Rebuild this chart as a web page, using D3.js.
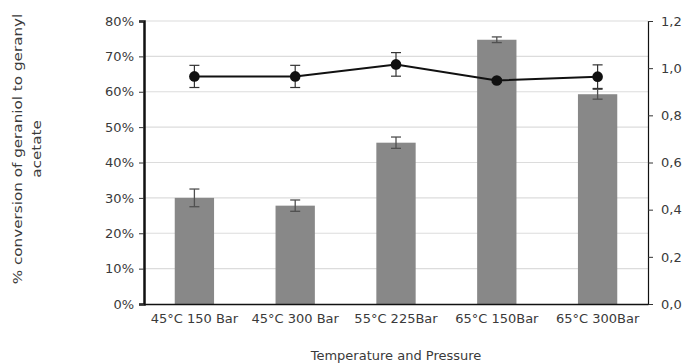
<!DOCTYPE html>
<html>
<head>
<meta charset="utf-8">
<script src="https://cdn.jsdelivr.net/npm/d3@7"></script>
<style>
  body { margin: 0; background: #fff; }
  text { font-family: "DejaVu Sans", sans-serif; }
</style>
</head>
<body>
<div class="chart-container"></div>
<script>
// --- Data ---
const conditions = ["45°C 150 Bar", "45°C 300 Bar", "55°C 225Bar", "65°C 150Bar", "65°C 300Bar"];
const conversion = [30.0, 27.8, 45.6, 74.7, 59.3];      // % conversion (bars, left axis)
const conversionErr = [2.5, 1.6, 1.6, 0.8, 1.4];
const ratio = [0.965, 0.965, 1.016, 0.948, 0.964];      // line, right axis
const ratioErr = [0.047, 0.047, 0.05, 0.008, 0.05];
const leftTicks = [0, 10, 20, 30, 40, 50, 60, 70, 80];
const rightTicks = [0, 0.2, 0.4, 0.6, 0.8, 1.0, 1.2];

const dimensions = {
    width: 691,
    height: 363,
    margin: { top: 21, right: 43, bottom: 59, left: 144 }
};
const width = dimensions.width - dimensions.margin.left - dimensions.margin.right;
const height = dimensions.height - dimensions.margin.top - dimensions.margin.bottom;

const rows = conditions.map((c, i) => ({
    cond: c, conv: conversion[i], convErr: conversionErr[i],
    ratio: ratio[i], ratioErr: ratioErr[i]
}));

const svg = d3.select(".chart-container").append("svg")
    .attr("width", dimensions.width)
    .attr("height", dimensions.height);

const g = svg.append("g")
    .attr("transform", `translate(${dimensions.margin.left},${dimensions.margin.top})`);

const xScale = d3.scaleBand().domain(conditions).range([0, width]).paddingInner(0.61).paddingOuter(0.305);
const yLeft = d3.scaleLinear().domain([0, 80]).range([height, 0]);
const yRight = d3.scaleLinear().domain([0, 1.2]).range([height, 0]);

// grid lines
g.append("g").selectAll("line")
    .data(leftTicks.filter(d => d > 0))
    .join("line")
    .attr("x1", 0).attr("x2", width)
    .attr("y1", d => yLeft(d)).attr("y2", d => yLeft(d))
    .attr("stroke", "#dcdcdc").attr("stroke-width", 1.2);

// bars
g.append("g").selectAll("rect")
    .data(rows)
    .join("rect")
    .attr("x", d => xScale(d.cond))
    .attr("width", xScale.bandwidth())
    .attr("y", d => yLeft(d.conv))
    .attr("height", d => height - yLeft(d.conv))
    .attr("fill", "#888888");

// bar error bars
const barErr = g.append("g").attr("stroke", "#505050").attr("stroke-width", 1.3);
rows.forEach(d => {
    const cx = xScale(d.cond) + xScale.bandwidth() / 2;
    barErr.append("line").attr("x1", cx).attr("x2", cx)
        .attr("y1", yLeft(d.conv - d.convErr)).attr("y2", yLeft(d.conv + d.convErr));
    [d.conv - d.convErr, d.conv + d.convErr].forEach(v => {
        barErr.append("line").attr("x1", cx - 5).attr("x2", cx + 5)
            .attr("y1", yLeft(v)).attr("y2", yLeft(v));
    });
});

// line series
const cxOf = d => xScale(d.cond) + xScale.bandwidth() / 2;
g.append("path")
    .datum(rows)
    .attr("fill", "none")
    .attr("stroke", "#111")
    .attr("stroke-width", 2)
    .attr("d", d3.line().x(cxOf).y(d => yRight(d.ratio)));

const lineErr = g.append("g").attr("stroke", "#333").attr("stroke-width", 1.2);
rows.forEach(d => {
    const cx = cxOf(d);
    lineErr.append("line").attr("x1", cx).attr("x2", cx)
        .attr("y1", yRight(d.ratio - d.ratioErr)).attr("y2", yRight(d.ratio + d.ratioErr));
    [d.ratio - d.ratioErr, d.ratio + d.ratioErr].forEach(v => {
        lineErr.append("line").attr("x1", cx - 5).attr("x2", cx + 5)
            .attr("y1", yRight(v)).attr("y2", yRight(v));
    });
});

g.append("g").selectAll("circle")
    .data(rows)
    .join("circle")
    .attr("cx", cxOf)
    .attr("cy", d => yRight(d.ratio))
    .attr("r", 5.3)
    .attr("fill", "#111");

// --- AXES ---
const leftAxis = g.append("g")
    .call(d3.axisLeft(yLeft).tickValues(leftTicks).tickSize(5).tickPadding(5).tickFormat(d => d + "%"));
leftAxis.select(".domain").attr("stroke", "#111").attr("stroke-width", 2.5);

const rightAxis = g.append("g")
    .attr("transform", `translate(${width},0)`)
    .call(d3.axisRight(yRight).tickValues(rightTicks).tickSize(5).tickPadding(8)
        .tickFormat(d => d3.format(".1f")(d).replace(".", ",")));
rightAxis.select(".domain").attr("stroke", "#111").attr("stroke-width", 1.2);

const bottomAxis = g.append("g")
    .attr("transform", `translate(0,${height})`)
    .call(d3.axisBottom(xScale).tickSize(0).tickPadding(10));
bottomAxis.select(".domain").attr("stroke", "#111").attr("stroke-width", 1.5);

[leftAxis, rightAxis, bottomAxis].forEach(a => {
    a.selectAll("text").attr("font-family", "DejaVu Sans").attr("font-size", 13).attr("fill", "#3a3a3a");
    a.selectAll(".tick line").attr("stroke", "#333");
});

// axis titles
svg.append("text")
    .attr("x", dimensions.margin.left + width / 2)
    .attr("y", 360)
    .attr("text-anchor", "middle")
    .attr("font-size", 13)
    .attr("fill", "#3a3a3a")
    .text("Temperature and Pressure");

// y title is stretched along its length in the reference
const yTitle = svg.append("text")
    .attr("transform", "translate(22,149) rotate(-90) scale(1.17,1)")
    .attr("text-anchor", "middle")
    .attr("font-size", 13)
    .attr("fill", "#3a3a3a");
yTitle.append("tspan").attr("x", 0).attr("y", 0).text("% conversion of geraniol to geranyl");
yTitle.append("tspan").attr("x", 0).attr("y", 19).text("acetate");
</script>
</body>
</html>
